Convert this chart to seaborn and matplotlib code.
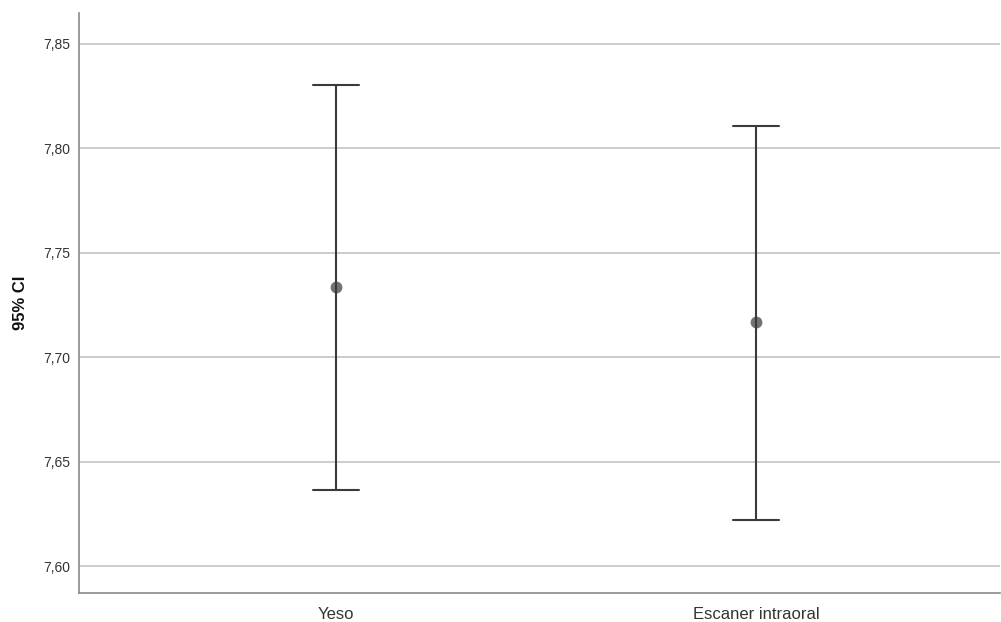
import pandas as pd
import seaborn as sns
import matplotlib.pyplot as plt
from matplotlib.ticker import FuncFormatter

# Intervalos de confianza del 95%
grupos = ['Yeso', 'Escaner intraoral']
media = [7.7338, 7.7167]
limite_inf = [7.6363, 7.6220]
limite_sup = [7.8304, 7.8108]

filas = []
for g, lo, m, hi in zip(grupos, limite_inf, media, limite_sup):
    for v in (lo, m, hi):
        filas.append({'Grupo': g, 'Valor': v})
df = pd.DataFrame(filas)

sns.set_style('white')
plt.rcParams['font.family'] = ['Liberation Sans', 'DejaVu Sans']

fig = plt.figure(figsize=(10.01, 6.22), dpi=100)
ax = fig.add_axes([79 / 1001, 29 / 622, 921 / 1001, 580 / 622])

sns.pointplot(data=df, x='Grupo', y='Valor', order=grupos,
              estimator='median', errorbar=lambda v: (v.min(), v.max()),
              linestyle='none', color='#727272', markersize=6.5,
              capsize=0.11, err_kws={'color': '#3a3a3a', 'linewidth': 1.5},
              ax=ax)

ax.set_ylim(7.5871, 7.8648)
ax.set_xlim(-0.612, 1.581)
ax.set_yticks([7.60, 7.65, 7.70, 7.75, 7.80, 7.85])
ax.yaxis.set_major_formatter(FuncFormatter(lambda v, p: f'{v:.2f}'.replace('.', ',')))
ax.grid(axis='y', color='#c8c8c8', linewidth=1.3)
ax.set_axisbelow(True)

for s in ['top', 'right']:
    ax.spines[s].set_visible(False)
for s in ['left', 'bottom']:
    ax.spines[s].set_color('#8a8a8a')
    ax.spines[s].set_linewidth(1.2)

ax.tick_params(axis='y', length=0, pad=6, labelsize=10, labelcolor='#333333')
ax.tick_params(axis='x', length=0, pad=10, labelsize=12, labelcolor='#333333')
ax.set_xlabel('')
ax.set_ylabel('95% CI', fontsize=12, fontweight='bold', labelpad=11, color='#111111')

plt.savefig('out.png', dpi=100)
